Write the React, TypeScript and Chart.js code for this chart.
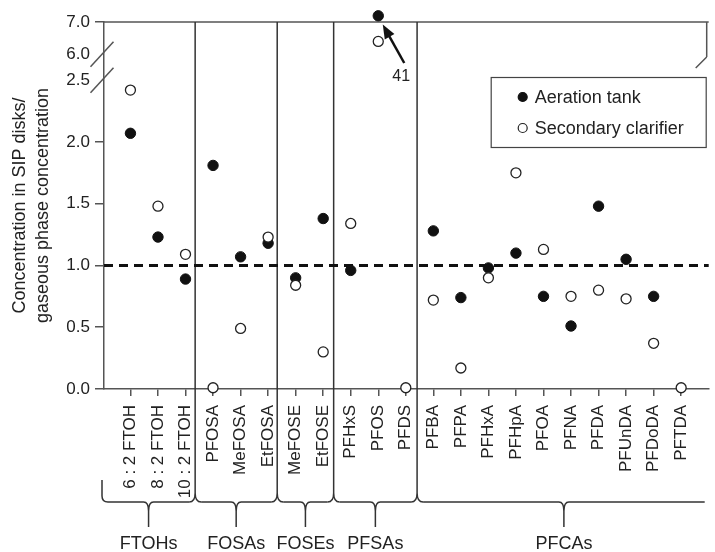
import React, { useEffect, useRef } from 'react';
import { Chart, registerables } from 'chart.js';

Chart.register(...registerables);

// ---------- data ----------
const categories = [
  '6 : 2 FTOH', '8 : 2 FTOH', '10 : 2 FTOH',
  'PFOSA', 'MeFOSA', 'EtFOSA',
  'MeFOSE', 'EtFOSE',
  'PFHxS', 'PFOS', 'PFDS',
  'PFBA', 'PFPA', 'PFHxA', 'PFHpA', 'PFOA', 'PFNA', 'PFDA', 'PFUnDA', 'PFDoDA', 'PFTDA',
];
const aerationTank: (number | null)[] = [
  2.07, 1.23, 0.89,
  1.81, 1.07, 1.18,
  0.90, 1.38,
  0.96, 41, null,
  1.28, 0.74, 0.98, 1.10, 0.75, 0.51, 1.48, 1.05, 0.75, null,
];
const secondaryClarifier: (number | null)[] = [
  2.42, 1.48, 1.09,
  0.01, 0.49, 1.23,
  0.84, 0.30,
  1.34, 6.4, 0.01,
  0.72, 0.17, 0.90, 1.75, 1.13, 0.75, 0.80, 0.73, 0.37, 0.01,
];
const seriesLabels = ['Aeration tank', 'Secondary clarifier'];
const yTickValues = [0, 0.5, 1, 1.5, 2, 2.5, 6, 7];
const yTickLabels = ['0.0', '0.5', '1.0', '1.5', '2.0', '2.5', '6.0', '7.0'];
const referenceLevel = 1.0;
const groupLabels = ['FTOHs', 'FOSAs', 'FOSEs', 'PFSAs', 'PFCAs'];
// boundaries between groups, in category-position units (category i sits at i+1)
const groupSeparators = [3.35, 6.33, 8.38, 11.41];
const yTitle = ['Concentration in SIP disks/', 'gaseous phase concentration'];

// ---------- broken y axis mapping ----------
const BREAK_LOW = 2.5;
const BREAK_HIGH = 6;
const BREAK_GAP = 0.209;
const UPPER_RATE = 0.262;
const AXIS_TOP = 7;
const OFF_SCALE = 0.05;
function toDisplay(v: number): number {
  if (v <= BREAK_LOW) return v;
  const top = BREAK_LOW + BREAK_GAP + (AXIS_TOP - BREAK_HIGH) * UPPER_RATE;
  if (v > AXIS_TOP) return top + OFF_SCALE;
  return BREAK_LOW + BREAK_GAP + (Math.max(v, BREAK_HIGH) - BREAK_HIGH) * UPPER_RATE;
}
const X_MIN = 0.04;
const X_MAX = 22;

const toPoints = (arr: (number | null)[]) =>
  arr
    .map((v, i) => (v === null ? null : { x: i + 1, y: toDisplay(v) }))
    .filter((p) => p !== null) as { x: number; y: number }[];

const FONT = "'Liberation Sans', Arial, Helvetica, sans-serif";
const INK = '#222';
const AXIS = '#555';

const decorations = {
  id: 'decorations',
  beforeDatasetsDraw(chart: any) {
    const { ctx, chartArea } = chart;
    const xs = chart.scales.x;
    const ys = chart.scales.y;
    ctx.save();
    ctx.strokeStyle = AXIS;
    ctx.lineWidth = 1.5;
    // top border
    ctx.beginPath();
    ctx.moveTo(chartArea.left, chartArea.top);
    ctx.lineTo(chartArea.right, chartArea.top);
    ctx.stroke();
    // right border fragment + break mark
    const rx = chartArea.right - 2;
    ctx.beginPath();
    ctx.moveTo(rx, chartArea.top);
    ctx.lineTo(rx, chartArea.top + 35);
    ctx.moveTo(rx - 11, chartArea.top + 46);
    ctx.lineTo(rx, chartArea.top + 35);
    ctx.stroke();
    // left axis break marks at 2.5 and 6.0
    [BREAK_LOW, BREAK_HIGH].forEach((v) => {
      const y = ys.getPixelForValue(toDisplay(v));
      const cx = chartArea.left - 2;
      ctx.beginPath();
      ctx.moveTo(cx - 11.5, y + 12.5);
      ctx.lineTo(cx + 11.5, y - 12.5);
      ctx.stroke();
    });
    // group separators, brackets, group labels
    const bracketY = chartArea.bottom + 113;
    const notchY = chartArea.bottom + 138;
    const labelY = chartArea.bottom + 155;
    ctx.strokeStyle = '#333';
    ctx.lineWidth = 1.5;
    const bounds = [chartArea.left - 2, ...groupSeparators.map((s) => xs.getPixelForValue(s)), chartArea.right + 2];
    groupSeparators.forEach((s) => {
      const sx = xs.getPixelForValue(s);
      ctx.beginPath();
      ctx.moveTo(sx, chartArea.top);
      ctx.lineTo(sx, bracketY - 9);
      ctx.quadraticCurveTo(sx, bracketY, sx - 6, bracketY);
      ctx.moveTo(sx, bracketY - 9);
      ctx.quadraticCurveTo(sx, bracketY, sx + 6, bracketY);
      ctx.stroke();
    });
    // left-most bracket end
    ctx.beginPath();
    ctx.moveTo(bounds[0], bracketY - 22);
    ctx.lineTo(bounds[0], bracketY - 6);
    ctx.quadraticCurveTo(bounds[0], bracketY, bounds[0] + 6, bracketY);
    ctx.stroke();
    ctx.fillStyle = INK;
    ctx.font = `18px ${FONT}`;
    ctx.textAlign = 'center';
    ctx.textBaseline = 'middle';
    groupLabels.forEach((name, i) => {
      const x0 = bounds[i] + 6;
      const x1 = bounds[i + 1] - 6;
      const cx = (bounds[i] + bounds[i + 1]) / 2;
      ctx.beginPath();
      ctx.moveTo(x0, bracketY);
      ctx.lineTo(cx - 5, bracketY);
      ctx.quadraticCurveTo(cx, bracketY, cx, bracketY + 9);
      ctx.moveTo(x1, bracketY);
      ctx.lineTo(cx + 5, bracketY);
      ctx.quadraticCurveTo(cx, bracketY, cx, bracketY + 9);
      ctx.lineTo(cx, notchY);
      ctx.stroke();
      ctx.fillText(name, cx, labelY);
    });
    ctx.restore();
  },
  afterDraw(chart: any) {
    const { ctx, chartArea } = chart;
    const xs = chart.scales.x;
    ctx.save();
    // off-scale annotation (PFOS aeration tank)
    const idx = aerationTank.findIndex((v) => v !== null && v > AXIS_TOP);
    if (idx >= 0) {
      const px = xs.getPixelForValue(idx + 1);
      const tip = { x: px + 4.5, y: chartArea.top + 2.5 };
      const tail = { x: px + 26, y: chartArea.top + 41 };
      const dx = tip.x - tail.x;
      const dy = tip.y - tail.y;
      const len = Math.hypot(dx, dy);
      const ux = dx / len;
      const uy = dy / len;
      const hl = 14;
      const hw = 5.5;
      ctx.strokeStyle = '#111';
      ctx.fillStyle = '#111';
      ctx.lineWidth = 2.5;
      ctx.beginPath();
      ctx.moveTo(tail.x, tail.y);
      ctx.lineTo(tip.x - ux * hl * 0.8, tip.y - uy * hl * 0.8);
      ctx.stroke();
      ctx.beginPath();
      ctx.moveTo(tip.x, tip.y);
      ctx.lineTo(tip.x - ux * hl - uy * hw, tip.y - uy * hl + ux * hw);
      ctx.lineTo(tip.x - ux * hl + uy * hw, tip.y - uy * hl - ux * hw);
      ctx.closePath();
      ctx.fill();
      ctx.fillStyle = INK;
      ctx.font = `16px ${FONT}`;
      ctx.textAlign = 'center';
      ctx.textBaseline = 'middle';
      ctx.fillText(String(aerationTank[idx]), px + 23, chartArea.top + 55);
    }
    // legend box
    const lx = chartArea.right - 218;
    const ly = chartArea.top + 55;
    const lw = 215;
    const lh = 70;
    ctx.fillStyle = '#fff';
    ctx.fillRect(lx, ly, lw, lh);
    ctx.strokeStyle = '#444';
    ctx.lineWidth = 1.2;
    ctx.strokeRect(lx + 0.5, ly + 0.5, lw, lh);
    const ds = chart.data.datasets;
    [0, 1].forEach((k) => {
      const y = ly + 20 + k * 31;
      ctx.beginPath();
      ctx.arc(lx + 32, y, 4.5, 0, Math.PI * 2);
      ctx.fillStyle = ds[k].pointBackgroundColor;
      ctx.fill();
      ctx.strokeStyle = ds[k].pointBorderColor;
      ctx.lineWidth = 1.2;
      ctx.stroke();
      ctx.fillStyle = INK;
      ctx.font = `18px ${FONT}`;
      ctx.textAlign = 'left';
      ctx.textBaseline = 'middle';
      ctx.fillText(ds[k].label, lx + 44, y + 1);
    });
    ctx.restore();
  },
};

export default function App() {
  const ref = useRef<HTMLCanvasElement>(null);
  useEffect(() => {
    if (!ref.current) return;
    Chart.defaults.font.family = FONT;
    Chart.defaults.color = INK;
    const yDisplayTicks = yTickValues.map(toDisplay);
    const hiddenTicks = [toDisplay(BREAK_LOW), toDisplay(BREAK_HIGH)];
    const chart = new Chart(ref.current, {
      type: 'scatter',
      data: {
        datasets: [
          {
            label: seriesLabels[0],
            data: toPoints(aerationTank),
            pointRadius: 5.2,
            pointBackgroundColor: '#111',
            pointBorderColor: '#111',
            pointBorderWidth: 1,
            showLine: false,
            clip: false,
            order: 1,
          } as any,
          {
            label: seriesLabels[1],
            data: toPoints(secondaryClarifier),
            pointRadius: 5,
            pointBackgroundColor: '#fff',
            pointBorderColor: '#222',
            pointBorderWidth: 1.3,
            showLine: false,
            clip: false,
            order: 0,
          } as any,
          {
            type: 'line',
            label: 'reference',
            data: [
              { x: X_MIN, y: referenceLevel },
              { x: X_MAX, y: referenceLevel },
            ],
            borderColor: '#111',
            borderWidth: 3,
            borderDash: [9, 6],
            pointRadius: 0,
            showLine: true,
            clip: false,
            order: 5,
          } as any,
        ],
      },
      options: {
        responsive: false,
        animation: false,
        devicePixelRatio: 1,
        layout: { padding: { top: 22, left: 0, right: 0, bottom: 0 } },
        plugins: { legend: { display: false }, tooltip: { enabled: false } },
        scales: {
          x: {
            type: 'linear',
            min: X_MIN,
            max: X_MAX,
            afterBuildTicks: (axis: any) => {
              axis.ticks = categories.map((_, i) => ({ value: i + 1 }));
            },
            afterFit: (s: any) => {
              s.height = 163;
            },
            ticks: {
              autoSkip: false,
              maxRotation: 90,
              minRotation: 90,
              padding: 9,
              color: INK,
              font: { size: 17 },
              callback: (_v: any, i: number) => categories[i],
            },
            grid: { drawOnChartArea: false, drawTicks: true, tickLength: 7, color: AXIS, lineWidth: 1.5 },
            border: { display: true, color: AXIS, width: 1.5 },
          },
          y: {
            type: 'linear',
            min: 0,
            max: toDisplay(AXIS_TOP),
            afterBuildTicks: (axis: any) => {
              axis.ticks = yDisplayTicks.map((v) => ({ value: v }));
            },
            afterFit: (s: any) => {
              s.width = 104;
            },
            ticks: {
              padding: 5,
              color: INK,
              font: { size: 17 },
              callback: (_v: any, i: number) => yTickLabels[i],
            },
            grid: {
              drawOnChartArea: false,
              drawTicks: true,
              tickLength: 9,
              lineWidth: 1.5,
              color: (c: any) =>
                c.tick && hiddenTicks.some((h) => Math.abs(h - c.tick.value) < 1e-6) ? 'rgba(0,0,0,0)' : AXIS,
            },
            border: { display: true, color: AXIS, width: 1.5 },
            title: {
              display: true,
              text: yTitle,
              color: INK,
              font: { size: 18, lineHeight: 1.3 },
              padding: { top: 8, bottom: 0 },
            },
          },
        },
      },
      plugins: [decorations],
    } as any);
    return () => chart.destroy();
  }, []);
  return (
    <div style={{ position: 'fixed', left: 0, top: 0, width: 715, height: 552, background: '#fff' }}>
      <canvas ref={ref} width={715} height={552} style={{ display: 'block', width: 715, height: 552 }} />
    </div>
  );
}
